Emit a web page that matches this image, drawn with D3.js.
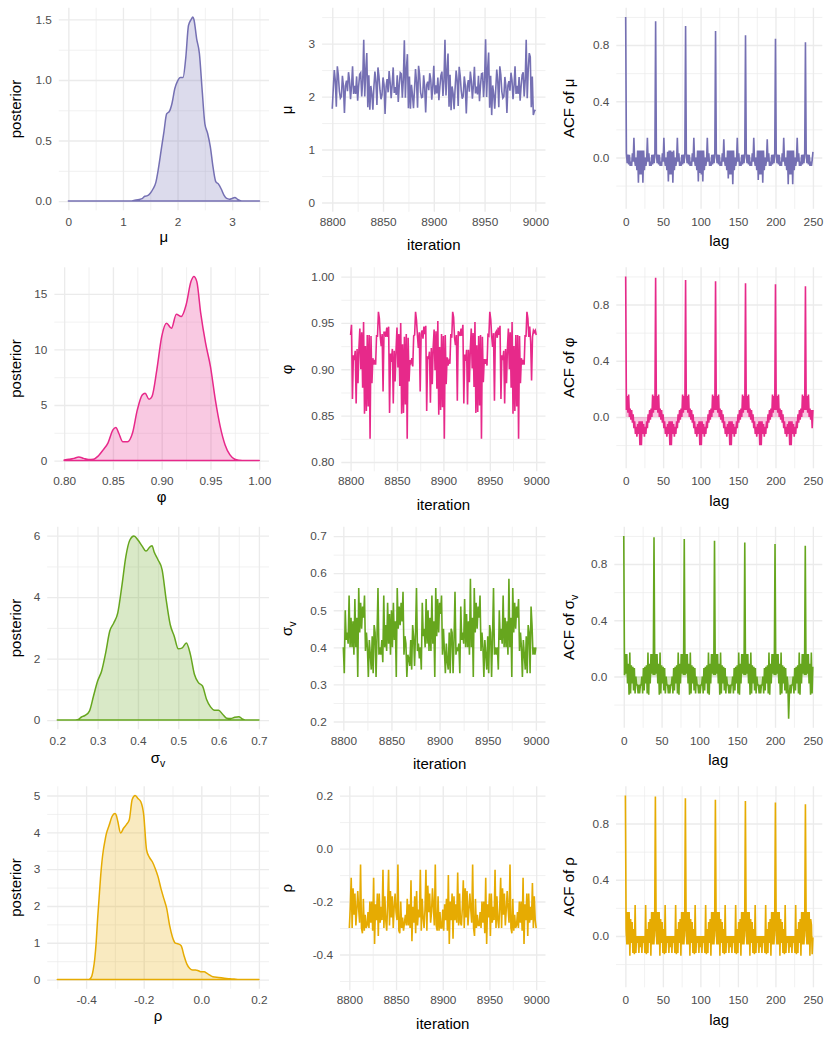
<!DOCTYPE html>
<html>
<head>
<meta charset="utf-8">
<script src="https://cdn.jsdelivr.net/npm/d3@7"></script>
<style>
  body { margin: 0; background: #fff; }
  svg { display: block; }
</style>
</head>
<body>
<div id="chart"></div>
<script>
//////////////////// data ////////////////////

// posterior densities (x, y) per parameter
var muDensX = [0, 1.15, 1.2, 1.3, 1.35, 1.4, 1.45, 1.5, 1.55, 1.6, 1.65, 1.7, 1.75, 1.8, 1.85, 1.9, 1.95, 2.0, 2.05, 2.1,
  2.15, 2.2, 2.25, 2.28, 2.3, 2.35, 2.4, 2.45, 2.5, 2.55, 2.6, 2.65, 2.7, 2.75, 2.8, 2.85, 2.9, 2.95, 3.0, 3.05, 3.1, 3.15, 3.2, 3.5];
var muDensY = [0, 0, 0.005, 0.014, 0.02, 0.04, 0.045, 0.065, 0.10, 0.15, 0.27, 0.42, 0.57, 0.72, 0.74, 0.81, 0.93, 0.99, 1.02, 1.02,
  1.18, 1.45, 1.50, 1.52, 1.50, 1.34, 1.22, 0.92, 0.64, 0.56, 0.45, 0.28, 0.16, 0.14, 0.10, 0.05, 0.022, 0.016, 0.022, 0.03, 0.014, 0.003, 0, 0];

var phiDensX = [0.80, 0.805, 0.81, 0.815, 0.82, 0.825, 0.83, 0.835, 0.84, 0.845, 0.85, 0.853, 0.856, 0.86, 0.865, 0.87, 0.875, 0.88, 0.883, 0.887,
  0.89, 0.895, 0.90, 0.905, 0.91, 0.915, 0.92, 0.925, 0.93, 0.933, 0.936, 0.94, 0.945, 0.95, 0.955, 0.96, 0.965, 0.97, 0.975, 0.98, 0.985, 1.00];
var phiDensY = [0.06, 0.12, 0.2, 0.33, 0.2, 0.1, 0.12, 0.42, 0.96, 1.6, 2.76, 2.97, 2.46, 1.7, 1.7, 2.46, 4.56, 5.9, 6.06, 5.52,
  5.76, 8.16, 11.16, 12.36, 11.9, 13.17, 12.96, 14.0, 16.1, 16.56, 16.1, 13.26, 10.56, 8.46, 5.46, 3.06, 1.41, 0.51, 0.12, 0.03, 0, 0];

var svDensX = [0.20, 0.24, 0.25, 0.26, 0.27, 0.28, 0.29, 0.30, 0.31, 0.32, 0.33, 0.34, 0.35, 0.36, 0.37, 0.38, 0.39, 0.40, 0.41, 0.42,
  0.43, 0.435, 0.44, 0.45, 0.46, 0.47, 0.48, 0.49, 0.50, 0.51, 0.52, 0.53, 0.54, 0.55, 0.56, 0.57, 0.58, 0.59, 0.60, 0.61,
  0.62, 0.63, 0.64, 0.65, 0.66, 0.67, 0.70];
var svDensY = [0, 0, 0.01, 0.10, 0.16, 0.30, 0.79, 1.27, 1.60, 2.19, 2.89, 3.16, 3.49, 4.35, 5.32, 5.86, 5.99, 5.86, 5.67, 5.50,
  5.64, 5.67, 5.48, 5.21, 4.89, 3.92, 3.11, 2.73, 2.32, 2.35, 2.51, 2.14, 1.49, 1.22, 1.11, 0.68, 0.43, 0.32, 0.32, 0.19,
  0.06, 0.05, 0.09, 0.11, 0.03, 0, 0];

var rhoDensX = [-0.50, -0.39, -0.385, -0.38, -0.375, -0.37, -0.365, -0.36, -0.355, -0.35, -0.345, -0.34, -0.335, -0.33, -0.32, -0.31, -0.30, -0.295, -0.29, -0.28,
  -0.27, -0.26, -0.25, -0.24, -0.23, -0.22, -0.21, -0.20, -0.19, -0.18, -0.17, -0.16, -0.15, -0.14, -0.13, -0.12, -0.11, -0.10, -0.09, -0.08,
  -0.07, -0.06, -0.05, -0.04, -0.03, -0.02, -0.01, 0.00, 0.01, 0.02, 0.03, 0.04, 0.06, 0.08, 0.10, 0.12, 0.14, 0.20];
var rhoDensY = [0, 0, 0.03, 0.10, 0.28, 0.56, 1.01, 1.65, 2.20, 2.75, 3.20, 3.52, 3.75, 3.95, 4.19, 4.43, 4.51, 4.46, 4.30, 3.98,
  4.11, 4.21, 4.34, 4.89, 5.00, 4.92, 4.83, 4.48, 3.52, 3.32, 3.20, 3.02, 2.79, 2.47, 2.20, 1.93, 1.47, 1.15, 0.99, 0.97,
  0.92, 0.65, 0.42, 0.30, 0.26, 0.26, 0.24, 0.21, 0.21, 0.17, 0.12, 0.08, 0.06, 0.04, 0.02, 0.01, 0, 0];

// trace of the last 201 iterations
var iteration = d3.range(8800, 9001);

var muTrace = [
  1.77, 2.15, 2.50, 2.30, 1.81, 2.57, 2.40, 2.10, 1.97, 2.00, 2.39, 2.20, 1.69, 2.20, 2.30, 2.10, 2.46, 2.30, 1.95, 2.20, 2.57, 2.05, 2.20, 2.05, 2.38, 1.92, 2.20, 2.42, 2.45, 2.00, 2.30, 3.07, 2.00, 2.50, 2.82, 1.80, 2.40, 1.75, 2.20, 2.05,
  1.75, 2.18, 2.47, 2.28, 1.84, 2.55, 2.38, 2.12, 1.95, 2.03, 2.36, 2.22, 1.67, 2.18, 2.33, 2.08, 2.48, 2.27, 1.97, 2.22, 2.55, 2.07, 2.18, 2.03, 2.40, 1.90, 2.22, 2.45, 2.43, 1.98, 2.32, 3.06, 1.98, 2.52, 2.80, 1.78, 2.38, 1.77, 2.22, 2.03,
  1.78, 2.13, 2.52, 2.27, 1.79, 2.58, 2.42, 2.08, 1.98, 1.99, 2.40, 2.18, 1.70, 2.22, 2.28, 2.12, 2.44, 2.32, 1.94, 2.19, 2.58, 2.04, 2.21, 2.06, 2.36, 1.93, 2.19, 2.40, 2.47, 2.01, 2.29, 3.07, 2.02, 2.48, 2.81, 1.81, 2.41, 1.74, 2.19, 2.06,
  1.76, 2.16, 2.49, 2.31, 1.82, 2.56, 2.39, 2.11, 1.96, 2.01, 2.38, 2.21, 1.68, 2.19, 2.31, 2.09, 2.47, 2.29, 1.96, 2.21, 2.56, 2.06, 2.19, 2.04, 2.39, 1.91, 2.21, 2.43, 2.44, 1.99, 2.31, 3.08, 1.99, 2.51, 2.83, 1.79, 2.39, 1.65, 2.21, 2.04,
  1.77, 2.14, 2.51, 2.29, 1.80, 2.57, 2.41, 2.09, 1.97, 2.00, 2.37, 2.19, 1.69, 2.21, 2.29, 2.11, 2.45, 2.31, 1.95, 2.20, 2.57, 2.05, 2.20, 2.05, 2.37, 1.92, 2.20, 2.41, 2.46, 2.00, 2.30, 3.07, 1.97, 2.50, 2.82, 2.75, 1.80, 2.38, 1.65, 1.72,
  1.75];

var phiTrace = [
  0.937, 0.948, 0.868, 0.915, 0.910, 0.920, 0.863, 0.922, 0.885, 0.923, 0.944, 0.900, 0.940, 0.880, 0.951, 0.852, 0.925, 0.855, 0.937, 0.860, 0.937, 0.825, 0.936, 0.885, 0.912, 0.905, 0.910, 0.905, 0.937, 0.935, 0.962, 0.955, 0.935, 0.925, 0.938, 0.876, 0.940, 0.940, 0.935, 0.945,
  0.935, 0.946, 0.853, 0.917, 0.908, 0.922, 0.863, 0.920, 0.887, 0.921, 0.945, 0.902, 0.938, 0.882, 0.950, 0.852, 0.927, 0.853, 0.935, 0.862, 0.938, 0.825, 0.934, 0.887, 0.910, 0.907, 0.912, 0.903, 0.936, 0.937, 0.962, 0.953, 0.937, 0.923, 0.940, 0.876, 0.938, 0.942, 0.933, 0.946,
  0.938, 0.947, 0.855, 0.914, 0.911, 0.919, 0.864, 0.923, 0.884, 0.924, 0.943, 0.899, 0.941, 0.879, 0.952, 0.851, 0.924, 0.856, 0.938, 0.859, 0.936, 0.825, 0.937, 0.884, 0.913, 0.904, 0.909, 0.906, 0.938, 0.934, 0.962, 0.956, 0.934, 0.926, 0.937, 0.866, 0.941, 0.939, 0.936, 0.944,
  0.936, 0.948, 0.863, 0.916, 0.909, 0.921, 0.862, 0.921, 0.886, 0.922, 0.944, 0.901, 0.939, 0.881, 0.951, 0.853, 0.926, 0.854, 0.936, 0.861, 0.937, 0.825, 0.935, 0.886, 0.911, 0.906, 0.911, 0.904, 0.937, 0.936, 0.962, 0.954, 0.936, 0.924, 0.939, 0.866, 0.939, 0.941, 0.934, 0.945,
  0.937, 0.947, 0.868, 0.915, 0.910, 0.920, 0.863, 0.922, 0.885, 0.923, 0.944, 0.900, 0.940, 0.880, 0.951, 0.852, 0.925, 0.855, 0.937, 0.860, 0.937, 0.825, 0.936, 0.885, 0.912, 0.905, 0.910, 0.905, 0.937, 0.935, 0.962, 0.955, 0.935, 0.946, 0.930, 0.888, 0.935, 0.942, 0.940, 0.942,
  0.937];

var svTrace = [
  0.40, 0.33, 0.50, 0.42, 0.44, 0.41, 0.54, 0.40, 0.48, 0.40, 0.47, 0.38, 0.53, 0.40, 0.48, 0.32, 0.56, 0.44, 0.52, 0.45, 0.51, 0.48, 0.54, 0.39, 0.44, 0.40, 0.32, 0.42, 0.38, 0.34, 0.43, 0.33, 0.46, 0.44, 0.32, 0.43, 0.56, 0.38, 0.40, 0.38,
  0.42, 0.36, 0.54, 0.40, 0.46, 0.39, 0.52, 0.41, 0.49, 0.38, 0.50, 0.40, 0.52, 0.42, 0.47, 0.32, 0.56, 0.45, 0.51, 0.46, 0.52, 0.47, 0.55, 0.38, 0.43, 0.41, 0.32, 0.38, 0.37, 0.35, 0.42, 0.34, 0.46, 0.43, 0.35, 0.44, 0.56, 0.39, 0.41, 0.37,
  0.40, 0.34, 0.52, 0.43, 0.45, 0.40, 0.53, 0.41, 0.50, 0.39, 0.48, 0.39, 0.54, 0.41, 0.47, 0.32, 0.56, 0.43, 0.53, 0.44, 0.52, 0.49, 0.54, 0.38, 0.45, 0.39, 0.33, 0.41, 0.36, 0.34, 0.44, 0.33, 0.45, 0.44, 0.33, 0.42, 0.55, 0.38, 0.40, 0.39,
  0.41, 0.33, 0.51, 0.42, 0.44, 0.41, 0.53, 0.40, 0.49, 0.40, 0.47, 0.38, 0.585, 0.40, 0.48, 0.32, 0.56, 0.44, 0.52, 0.45, 0.51, 0.48, 0.54, 0.39, 0.44, 0.40, 0.32, 0.42, 0.38, 0.34, 0.43, 0.33, 0.46, 0.44, 0.32, 0.43, 0.56, 0.38, 0.40, 0.38,
  0.40, 0.34, 0.50, 0.42, 0.45, 0.41, 0.54, 0.40, 0.48, 0.40, 0.47, 0.38, 0.585, 0.40, 0.48, 0.32, 0.56, 0.44, 0.52, 0.45, 0.51, 0.48, 0.53, 0.39, 0.44, 0.40, 0.32, 0.42, 0.38, 0.34, 0.43, 0.33, 0.46, 0.44, 0.33, 0.51, 0.46, 0.38, 0.40, 0.38,
  0.40];

var rhoTrace = [
  -0.30, -0.22, -0.11, -0.30, -0.15, -0.25, -0.17, -0.29, -0.23, -0.16, -0.23, -0.28, -0.06, -0.30, -0.32, -0.19, -0.31, -0.25, -0.30, -0.29, -0.24, -0.30, -0.20, -0.28, -0.20, -0.31, -0.11, -0.36, -0.21, -0.27, -0.17, -0.33, -0.17, -0.28, -0.22, -0.27, -0.08, -0.30, -0.18, -0.27,
  -0.31, -0.21, -0.08, -0.29, -0.16, -0.26, -0.18, -0.30, -0.22, -0.17, -0.24, -0.27, -0.06, -0.31, -0.32, -0.20, -0.30, -0.26, -0.31, -0.28, -0.25, -0.29, -0.19, -0.29, -0.21, -0.30, -0.12, -0.35, -0.22, -0.28, -0.18, -0.32, -0.16, -0.29, -0.23, -0.26, -0.08, -0.31, -0.19, -0.26,
  -0.30, -0.23, -0.08, -0.31, -0.14, -0.24, -0.17, -0.28, -0.24, -0.15, -0.22, -0.29, -0.06, -0.29, -0.31, -0.18, -0.31, -0.24, -0.30, -0.30, -0.23, -0.31, -0.21, -0.27, -0.19, -0.31, -0.10, -0.36, -0.20, -0.27, -0.17, -0.34, -0.18, -0.27, -0.21, -0.28, -0.09, -0.29, -0.17, -0.28,
  -0.29, -0.22, -0.12, -0.30, -0.15, -0.26, -0.16, -0.29, -0.23, -0.17, -0.23, -0.28, -0.06, -0.30, -0.33, -0.19, -0.30, -0.25, -0.29, -0.29, -0.24, -0.30, -0.20, -0.28, -0.20, -0.32, -0.11, -0.36, -0.21, -0.26, -0.17, -0.33, -0.17, -0.28, -0.22, -0.27, -0.08, -0.30, -0.18, -0.27,
  -0.30, -0.22, -0.11, -0.30, -0.15, -0.25, -0.17, -0.29, -0.23, -0.16, -0.23, -0.28, -0.06, -0.30, -0.32, -0.19, -0.31, -0.25, -0.30, -0.29, -0.24, -0.30, -0.20, -0.28, -0.20, -0.31, -0.11, -0.36, -0.21, -0.27, -0.17, -0.33, -0.17, -0.28, -0.22, -0.27, -0.13, -0.30, -0.18, -0.27,
  -0.30];

// autocorrelation, lags 0..250
var lag = d3.range(0, 251);

var muAcf = [
  1.00, 0.03, -0.04, 0.02, -0.05, 0.02, -0.06, -0.03, -0.06, 0.03, -0.03, 0.14, -0.02, -0.06, 0.00, -0.09, 0.05, -0.18, 0.05, -0.12, 0.05, -0.12, 0.05, -0.18, 0.05, -0.09, 0.00, -0.06, -0.02, 0.14, -0.03, 0.03, -0.06, -0.03, -0.06, 0.02, -0.05, 0.02, -0.04, 0.03,
  0.97, 0.03, -0.04, 0.02, -0.05, 0.02, -0.06, -0.03, -0.06, 0.03, -0.03, 0.14, -0.02, -0.06, 0.00, -0.09, 0.04, -0.17, 0.05, -0.12, 0.05, -0.12, 0.04, -0.18, 0.05, -0.09, 0.00, -0.06, -0.02, 0.14, -0.03, 0.03, -0.06, -0.03, -0.06, 0.02, -0.05, 0.02, -0.04, 0.03,
  0.935, 0.03, -0.04, 0.02, -0.05, 0.02, -0.06, -0.03, -0.06, 0.03, -0.03, 0.14, -0.02, -0.06, 0.00, -0.09, 0.05, -0.17, 0.05, -0.11, 0.05, -0.12, 0.05, -0.17, 0.05, -0.09, 0.00, -0.06, -0.02, 0.14, -0.03, 0.03, -0.06, -0.03, -0.06, 0.02, -0.05, 0.02, -0.04, 0.03,
  0.90, 0.03, -0.04, 0.02, -0.05, 0.02, -0.06, -0.03, -0.06, 0.03, -0.03, 0.13, -0.02, -0.06, 0.00, -0.09, 0.05, -0.15, 0.05, -0.12, 0.05, -0.12, 0.05, -0.19, 0.05, -0.09, 0.00, -0.06, -0.02, 0.14, -0.03, 0.03, -0.06, -0.03, -0.06, 0.02, -0.05, 0.02, -0.04, 0.03,
  0.87, 0.03, -0.04, 0.02, -0.05, 0.02, -0.06, -0.03, -0.06, 0.03, -0.03, 0.14, -0.02, -0.06, 0.00, -0.09, 0.05, -0.16, 0.05, -0.12, 0.05, -0.12, 0.05, -0.18, 0.05, -0.09, 0.00, -0.06, -0.02, 0.13, -0.03, 0.03, -0.06, -0.03, -0.06, 0.02, -0.05, 0.02, -0.04, 0.03,
  0.845, 0.03, -0.04, 0.02, -0.05, 0.02, -0.06, -0.03, -0.06, 0.03, -0.03, 0.14, -0.02, -0.06, 0.00, -0.09, 0.05, -0.19, 0.05, -0.12, 0.05, -0.12, 0.05, -0.19, 0.05, -0.09, 0.00, -0.06, -0.02, 0.14, -0.03, 0.03, -0.06, -0.03, -0.06, 0.02, -0.05, 0.02, -0.04, 0.03,
  0.82, 0.03, -0.04, 0.02, -0.05, 0.02, -0.06, -0.03, -0.06, -0.02, 0.04];

var phiAcf = [
  1.00, 0.05, 0.15, 0.03, 0.16, 0.00, 0.06, -0.02, 0.05, -0.04, 0.02, -0.08, -0.03, -0.12, -0.07, -0.14, -0.05, -0.12, -0.03, -0.20, -0.03, -0.20, -0.03, -0.12, -0.05, -0.14, -0.07, -0.12, -0.03, -0.08, 0.02, -0.04, 0.05, -0.02, 0.06, 0.00, 0.16, 0.03, 0.15, 0.05,
  0.99, 0.05, 0.15, 0.03, 0.16, 0.00, 0.06, -0.02, 0.05, -0.04, 0.02, -0.08, -0.03, -0.12, -0.07, -0.14, -0.05, -0.12, -0.03, -0.20, -0.03, -0.20, -0.03, -0.12, -0.05, -0.14, -0.07, -0.12, -0.03, -0.08, 0.02, -0.04, 0.05, -0.02, 0.06, 0.00, 0.16, 0.03, 0.15, 0.05,
  0.975, 0.05, 0.15, 0.03, 0.16, 0.00, 0.06, -0.02, 0.05, -0.04, 0.02, -0.08, -0.03, -0.12, -0.07, -0.14, -0.05, -0.12, -0.03, -0.20, -0.03, -0.20, -0.03, -0.12, -0.05, -0.14, -0.07, -0.12, -0.03, -0.08, 0.02, -0.04, 0.05, -0.02, 0.06, 0.00, 0.16, 0.03, 0.15, 0.05,
  0.965, 0.05, 0.15, 0.03, 0.16, 0.00, 0.06, -0.02, 0.05, -0.04, 0.02, -0.08, -0.03, -0.12, -0.07, -0.14, -0.05, -0.12, -0.03, -0.20, -0.03, -0.20, -0.03, -0.12, -0.05, -0.14, -0.07, -0.12, -0.03, -0.08, 0.02, -0.04, 0.05, -0.02, 0.06, 0.00, 0.16, 0.03, 0.15, 0.05,
  0.952, 0.05, 0.15, 0.03, 0.16, 0.00, 0.06, -0.02, 0.05, -0.04, 0.02, -0.08, -0.03, -0.12, -0.07, -0.14, -0.05, -0.12, -0.03, -0.20, -0.03, -0.20, -0.03, -0.12, -0.05, -0.14, -0.07, -0.12, -0.03, -0.08, 0.02, -0.04, 0.05, -0.02, 0.06, 0.00, 0.16, 0.03, 0.15, 0.05,
  0.944, 0.05, 0.15, 0.03, 0.16, 0.00, 0.06, -0.02, 0.05, -0.04, 0.02, -0.08, -0.03, -0.12, -0.07, -0.14, -0.05, -0.12, -0.03, -0.20, -0.03, -0.20, -0.03, -0.12, -0.05, -0.14, -0.07, -0.12, -0.03, -0.08, 0.02, -0.04, 0.05, -0.02, 0.06, 0.00, 0.16, 0.03, 0.15, 0.05,
  0.93, 0.05, 0.15, 0.03, 0.16, 0.00, 0.06, -0.02, 0.05, -0.08, 0.05];

var svAcf = [
  1.00, 0.01, 0.16, 0.02, 0.16, -0.05, 0.09, -0.13, 0.17, -0.12, 0.08, -0.05, 0.07, -0.10, 0.06, -0.12, 0.00, -0.06, -0.06, -0.12, -0.06, -0.12, -0.06, -0.06, 0.00, -0.12, 0.06, -0.10, 0.07, -0.05, 0.08, -0.12, 0.17, -0.13, 0.09, -0.05, 0.16, 0.02, 0.16, 0.01,
  0.99, 0.01, 0.16, 0.02, 0.16, -0.05, 0.09, -0.13, 0.17, -0.12, 0.08, -0.05, 0.07, -0.10, 0.06, -0.12, 0.00, -0.06, -0.06, -0.12, -0.06, -0.12, -0.06, -0.06, 0.00, -0.12, 0.06, -0.10, 0.07, -0.05, 0.08, -0.12, 0.17, -0.13, 0.09, -0.05, 0.16, 0.02, 0.16, 0.01,
  0.978, 0.01, 0.16, 0.02, 0.16, -0.05, 0.09, -0.13, 0.17, -0.12, 0.08, -0.05, 0.07, -0.10, 0.06, -0.12, 0.00, -0.06, -0.06, -0.12, -0.06, -0.12, -0.06, -0.06, 0.00, -0.12, 0.06, -0.10, 0.07, -0.05, 0.08, -0.12, 0.17, -0.13, 0.09, -0.05, 0.16, 0.02, 0.16, 0.01,
  0.966, 0.01, 0.16, 0.02, 0.16, -0.05, 0.09, -0.13, 0.17, -0.12, 0.08, -0.05, 0.07, -0.10, 0.06, -0.12, 0.00, -0.06, -0.06, -0.12, -0.06, -0.12, -0.06, -0.06, 0.00, -0.12, 0.06, -0.10, 0.07, -0.05, 0.08, -0.12, 0.17, -0.13, 0.09, -0.05, 0.16, 0.02, 0.16, 0.01,
  0.954, 0.01, 0.16, 0.02, 0.16, -0.05, 0.09, -0.13, 0.17, -0.12, 0.08, -0.05, 0.07, -0.10, 0.06, -0.12, 0.00, -0.06, -0.06, -0.12, -0.06, -0.12, -0.06, -0.06, 0.00, -0.12, 0.06, -0.10, 0.07, -0.05, 0.08, -0.12, 0.17, -0.13, 0.09, -0.05, 0.16, 0.02, 0.16, 0.01,
  0.942, 0.01, 0.16, 0.02, 0.16, -0.05, 0.09, -0.13, 0.17, -0.12, 0.08, -0.05, 0.07, -0.10, 0.06, -0.12, 0.00, -0.06, -0.30, -0.12, -0.06, -0.12, -0.06, -0.06, 0.00, -0.12, 0.06, -0.10, 0.07, -0.05, 0.08, -0.12, 0.17, -0.13, 0.09, -0.05, 0.16, 0.02, 0.16, 0.01,
  0.93, 0.01, 0.16, 0.02, 0.16, -0.05, 0.09, -0.13, 0.17, -0.12, 0.07];

var rhoAcf = [
  1.00, 0.05, -0.06, 0.17, -0.06, 0.17, -0.14, 0.12, -0.05, 0.10, -0.12, 0.05, -0.13, 0.22, -0.12, 0.00, -0.05, 0.00, -0.12, 0.00, -0.08, 0.00, -0.12, 0.00, -0.05, 0.00, -0.12, 0.22, -0.13, 0.05, -0.12, 0.10, -0.05, 0.12, -0.14, 0.17, -0.06, 0.17, -0.06, 0.05,
  0.993, 0.05, -0.06, 0.17, -0.06, 0.17, -0.14, 0.12, -0.05, 0.10, -0.12, 0.05, -0.13, 0.22, -0.12, 0.00, -0.05, 0.00, -0.12, 0.00, -0.08, 0.00, -0.12, 0.00, -0.05, 0.00, -0.12, 0.22, -0.13, 0.05, -0.12, 0.10, -0.05, 0.12, -0.14, 0.17, -0.06, 0.17, -0.06, 0.05,
  0.98, 0.05, -0.06, 0.17, -0.06, 0.17, -0.14, 0.12, -0.05, 0.10, -0.12, 0.05, -0.13, 0.22, -0.12, 0.00, -0.05, 0.00, -0.12, 0.00, -0.08, 0.00, -0.12, 0.00, -0.05, 0.00, -0.12, 0.22, -0.13, 0.05, -0.12, 0.10, -0.05, 0.12, -0.14, 0.17, -0.06, 0.17, -0.06, 0.05,
  0.969, 0.05, -0.06, 0.17, -0.06, 0.17, -0.14, 0.12, -0.05, 0.10, -0.12, 0.05, -0.13, 0.22, -0.12, 0.00, -0.05, 0.00, -0.12, 0.00, -0.08, 0.00, -0.12, 0.00, -0.05, 0.00, -0.12, 0.22, -0.13, 0.05, -0.12, 0.10, -0.05, 0.12, -0.14, 0.17, -0.06, 0.17, -0.06, 0.05,
  0.96, 0.05, -0.06, 0.17, -0.06, 0.17, -0.14, 0.12, -0.05, 0.10, -0.12, 0.05, -0.13, 0.22, -0.12, 0.00, -0.05, 0.00, -0.12, 0.00, -0.08, 0.00, -0.12, 0.00, -0.05, 0.00, -0.12, 0.22, -0.13, 0.05, -0.12, 0.10, -0.05, 0.12, -0.14, 0.17, -0.06, 0.17, -0.06, 0.05,
  0.95, 0.05, -0.06, 0.17, -0.06, 0.17, -0.14, 0.12, -0.05, 0.10, -0.12, 0.05, -0.13, 0.22, -0.12, 0.00, -0.05, 0.00, -0.12, 0.00, -0.08, 0.00, -0.12, 0.00, -0.05, 0.00, -0.12, 0.22, -0.13, 0.05, -0.12, 0.10, -0.05, 0.12, -0.14, 0.17, -0.06, 0.17, -0.06, 0.05,
  0.938, 0.05, -0.06, 0.17, -0.06, 0.17, -0.14, 0.12, 0.08, -0.13, -0.01];

// axis limits and breaks
var muLim = [0, 3.5], muTicks = [0, 1, 2, 3], muDensTicks = [0, 0.5, 1.0, 1.5];
var phiLim = [0.8, 1.0], phiTicks = [0.80, 0.85, 0.90, 0.95, 1.00], phiDensTicks = [0, 5, 10, 15];
var svLim = [0.2, 0.7], svTicks = [0.2, 0.3, 0.4, 0.5, 0.6, 0.7], svDensTicks = [0, 2, 4, 6];
var rhoLim = [-0.5, 0.2], rhoTicks = [-0.4, -0.2, 0.0, 0.2], rhoDensTicks = [0, 1, 2, 3, 4, 5];
var iterLim = [8800, 9000], iterTicks = [8800, 8850, 8900, 8950, 9000];
var lagLim = [0, 250], lagTicks = [0, 50, 100, 150, 200, 250];
var acfLim = [-0.3, 1], acfTicks = [0.0, 0.4, 0.8];

//////////////////// set up the svg ////////////////////

var font = '"Liberation Sans", Arial, Helvetica, sans-serif';
var rowH = 259.5;

var svg = d3.select("#chart").append("svg")
  .attr("width", 830).attr("height", 1038);

var params = [
  { color: "#7570B3", sym: { main: "\u03bc" }, densX: muDensX, densY: muDensY, trace: muTrace, acf: muAcf,
    lim: muLim, ticks: muTicks, fmt: "d", densTicks: muDensTicks, densFmt: ".1f",
    densLeft: 58.8, traceLeft: 322.1, acfLeft: 616.3 },
  { color: "#E7298A", sym: { main: "\u03c6" }, densX: phiDensX, densY: phiDensY, trace: phiTrace, acf: phiAcf,
    lim: phiLim, ticks: phiTicks, fmt: ".2f", densTicks: phiDensTicks, densFmt: "d",
    densLeft: 54.4, traceLeft: 341.3, acfLeft: 616.3 },
  { color: "#66A61E", sym: { main: "\u03c3", sub: "v" }, densX: svDensX, densY: svDensY, trace: svTrace, acf: svAcf,
    lim: svLim, ticks: svTicks, fmt: ".1f", densTicks: svDensTicks, densFmt: "d",
    densLeft: 47.2, traceLeft: 333.7, acfLeft: 614.3 },
  { color: "#E6AB02", sym: { main: "\u03c1" }, densX: rhoDensX, densY: rhoDensY, trace: rhoTrace, acf: rhoAcf,
    lim: rhoLim, ticks: rhoTicks, fmt: ".1f", densTicks: rhoDensTicks, densFmt: "d",
    densLeft: 47.2, traceLeft: 340.0, acfLeft: 616.0 }
];

// ggplot style 5% expansion
function expand(lim) {
  var d = (lim[1] - lim[0]) * 0.05;
  return [lim[0] - d, lim[1] + d];
}

// minor breaks halfway between the majors, kept inside the domain
function minorBreaks(major, dom) {
  var step = major[1] - major[0], out = [];
  for (var v = major[0] - step / 2; v <= dom[1] + 1e-9; v += step) {
    if (v >= dom[0] - 1e-9) out.push(+v.toFixed(6));
  }
  return out;
}

function fmt(spec) {
  var f = d3.format(spec);
  return function (v) { return f(v).replace("\u2212", "-"); };
}

function gridStyle(sel, width) {
  sel.select(".domain").remove();
  sel.selectAll(".tick line").attr("stroke", "#ebebeb").attr("stroke-width", width);
  sel.selectAll(".tick text").attr("fill", "#4d4d4d").attr("font-size", 11.8).attr("font-family", font);
}

// one panel: grid, tick labels, scales
function panel(o) {
  var x = d3.scaleLinear().domain(expand(o.xLim)).range([o.left, o.right]);
  var y = d3.scaleLinear().domain(expand(o.yLim)).range([o.bottom, o.top]);
  var w = o.right - o.left, h = o.bottom - o.top;
  var g = svg.append("g");
  var xPad = o.labelY - o.bottom - 0.71 * 11.8;

  g.append("g").attr("transform", "translate(0," + o.bottom + ")")
    .call(d3.axisBottom(x).tickValues(minorBreaks(o.xTicks, x.domain())).tickSize(-h).tickFormat(""))
    .call(gridStyle, 0.7);
  g.append("g").attr("transform", "translate(" + o.left + ",0)")
    .call(d3.axisLeft(y).tickValues(minorBreaks(o.yTicks, y.domain())).tickSize(-w).tickFormat(""))
    .call(gridStyle, 0.7);
  g.append("g").attr("transform", "translate(0," + o.bottom + ")")
    .call(d3.axisBottom(x).tickValues(o.xTicks).tickSize(-h).tickPadding(xPad).tickFormat(fmt(o.xFmt)))
    .call(gridStyle, 1.35);
  g.append("g").attr("transform", "translate(" + o.left + ",0)")
    .call(d3.axisLeft(y).tickValues(o.yTicks).tickSize(-w).tickPadding(7).tickFormat(fmt(o.yFmt)))
    .call(gridStyle, 1.35);

  return { g: g, x: x, y: y };
}

function title(x, y, parts, rotated) {
  var t = svg.append("text")
    .attr("transform", rotated ? "translate(" + x + "," + y + ") rotate(-90)" : "translate(" + x + "," + y + ")")
    .attr("text-anchor", "middle")
    .attr("font-size", 15)
    .attr("font-family", font)
    .attr("fill", "#000");
  t.append("tspan").text(parts.main);
  if (parts.sub) t.append("tspan").attr("font-size", 10.5).attr("dy", 4).text(parts.sub);
  return t;
}

//////////////////// draw the 4 x 3 grid ////////////////////

params.forEach(function (p, r) {
  var top = r * rowH;
  var labelY = top + 225.6;

  // density
  var dTop = top + 7.8, dBot = top + 210.3;
  var dp = panel({ left: p.densLeft, right: 269, top: dTop, bottom: dBot,
    xLim: p.lim, yLim: [0, d3.max(p.densY)], xTicks: p.ticks, yTicks: p.densTicks,
    xFmt: p.fmt, yFmt: p.densFmt, labelY: labelY });
  dp.g.append("path")
    .datum(d3.zip(p.densX, p.densY))
    .attr("d", d3.area()
      .x(function (d) { return dp.x(d[0]); })
      .y0(dp.y(0))
      .y1(function (d) { return dp.y(d[1]); })
      .curve(d3.curveMonotoneX))
    .attr("fill", p.color).attr("fill-opacity", 0.25)
    .attr("stroke", p.color).attr("stroke-width", 1.5).attr("stroke-linejoin", "round");
  title((p.densLeft + 269) / 2, top + (p.sym.sub ? 243.5 : 242), p.sym, false);
  title(20.5, (dTop + dBot) / 2, { main: "posterior" }, true);

  // trace
  var tTop = top + 7.8, tBot = top + 211.8;
  var tp = panel({ left: p.traceLeft, right: 545.5, top: tTop, bottom: tBot,
    xLim: iterLim, yLim: p.lim, xTicks: iterTicks, yTicks: p.ticks,
    xFmt: "d", yFmt: p.fmt, labelY: labelY });
  tp.g.append("path")
    .datum(p.trace)
    .attr("d", d3.line()
      .x(function (d, i) { return tp.x(iteration[i]); })
      .y(function (d) { return tp.y(d); }))
    .attr("fill", "none").attr("stroke", p.color).attr("stroke-width", 1.6);
  title((p.traceLeft + 545.5) / 2, top + 250, { main: "iteration" }, false);
  title(292, (tTop + tBot) / 2, p.sym, true);

  // autocorrelation
  var aTop = top + 7.8, aBot = top + 208.8;
  var ap = panel({ left: p.acfLeft, right: 822.3, top: aTop, bottom: aBot,
    xLim: lagLim, yLim: acfLim, xTicks: lagTicks, yTicks: acfTicks,
    xFmt: "d", yFmt: ".1f", labelY: labelY });
  ap.g.append("path")
    .datum(p.acf)
    .attr("d", d3.area()
      .x(function (d, i) { return ap.x(lag[i]); })
      .y0(ap.y(0))
      .y1(function (d) { return ap.y(d); }))
    .attr("fill", p.color).attr("fill-opacity", 0.25);
  ap.g.append("path")
    .datum(p.acf)
    .attr("d", d3.line()
      .x(function (d, i) { return ap.x(lag[i]); })
      .y(function (d) { return ap.y(d); }))
    .attr("fill", "none").attr("stroke", p.color).attr("stroke-width", 1.6);
  title((p.acfLeft + 822.3) / 2, top + 246, { main: "lag" }, false);
  title(573.5, (aTop + aBot) / 2, { main: "ACF of " + p.sym.main, sub: p.sym.sub }, true);
});
</script>
</body>
</html>
